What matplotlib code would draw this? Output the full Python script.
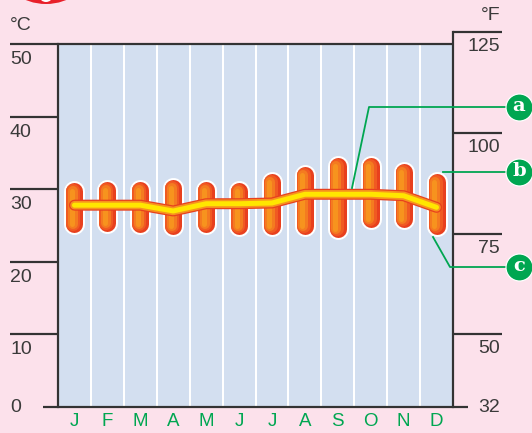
import matplotlib
matplotlib.use('Agg')
import matplotlib.pyplot as plt
import numpy as np
from matplotlib.patches import Circle

# climate data (deg C)
months = ['J', 'F', 'M', 'A', 'M', 'J', 'J', 'A', 'S', 'O', 'N', 'D']
temp_max = [30.9, 31.0, 31.0, 31.3, 31.0, 30.9, 32.1, 33.1, 34.4, 34.3, 33.5, 32.2]
temp_min = [24.1, 24.2, 24.1, 23.8, 24.1, 23.8, 23.7, 23.7, 23.4, 24.7, 24.7, 23.7]
temp_mean = [27.8, 27.8, 27.8, 27.0, 28.0, 28.0, 28.1, 29.3, 29.3, 29.3, 29.1, 27.5]
c_ticks = [0, 10, 20, 30, 40, 50]
f_ticks = [125, 100, 75, 50, 32]

W, H = 532, 433
L, R, T, B = 58, 453, 44, 407   # plot area in pixels
PINK = '#fce1eb'
BLUE = '#d3dff0'
GREEN = '#00a651'
TXT = '#3a3a3a'

fig = plt.figure(figsize=(W / 100, H / 100), dpi=100, facecolor=PINK)
ax = fig.add_axes([L / W, (H - B) / H, (R - L) / W, (B - T) / H])
ax.set_xlim(0, 12)
ax.set_ylim(0, 50)
ax.set_facecolor(BLUE)
for s in ax.spines.values():
    s.set_visible(False)
ax.set_xticks([])
ax.set_yticks([])

pt = 72 / 100  # points per pixel
xs = (R - L) / 12      # pixels per month
ys = (B - T) / 50      # pixels per degree


def dx(px):
    return (px - L) / xs


def dy(py):
    return (B - py) / ys


def hline(x0, x1, y, **kw):
    ax.plot([dx(x0), dx(x1)], [y, y], clip_on=False, solid_capstyle='butt', **kw)


frame = dict(color='#333333', lw=2.2 * pt)
font = dict(fontsize=14, color=TXT, family='Liberation Sans')

# column separators
for i in range(1, 12):
    ax.axvline(i, color='white', lw=2 * pt, zorder=1)

# left axis (deg C)
for v in c_ticks:
    if v == 0:
        hline(43, 468, v, **frame)
        ax.text(dx(10), v, '0', ha='left', va='center', **font)
    else:
        hline(10, L, v, **frame)
        ax.text(dx(10), v - 7 / ys, str(v), ha='left', va='top', **font)
hline(L, R, 50, **frame)
ax.plot([0, 0], [0, 50], clip_on=False, **frame)

# right axis (deg F)
for f in f_ticks:
    c = (f - 32) * 5 / 9
    if f == 32:
        ax.text(dx(500), c, str(f), ha='right', va='center', **font)
    else:
        hline(R, 502, c, **frame)
        ax.text(dx(500), c - 6 / ys, str(f), ha='right', va='top', **font)
ax.plot([12, 12], [0, (125 - 32) * 5 / 9], clip_on=False, **frame)

ax.text(dx(10), dy(25), '°C', ha='left', va='center', **font)
ax.text(dx(500), dy(15), '°F', ha='right', va='center', **font)

# month labels
for i, m in enumerate(months):
    ax.text(i + 0.5, dy(421), m, ha='center', va='center', fontsize=13.5,
            color=GREEN, family='Liberation Sans')

# capsule bars (max / min), faked gradient with nested capsules
bw = 17  # bar width in px
cap = (bw / 2) / ys
xc = np.arange(12) + 0.5
layers = [(0, bw + 4, 'white'), (0, bw, '#e8401e'), (-1, 14, '#f05a22'),
          (-1.5, 10, '#f47b20'), (-2.5, 5, '#f7931e')]
for x, lo, hi in zip(xc, temp_min, temp_max):
    y0, y1 = lo + cap, hi - cap
    for k, (off, w, col) in enumerate(layers):
        ax.plot([x + off / xs] * 2, [y0, y1], color=col, lw=w * pt,
                solid_capstyle='round', zorder=3 + k)

# mean line
for k, (w, col) in enumerate([(11, '#e8401e'), (8.5, '#f7931e'), (5, '#ffe600')]):
    ax.plot(xc, temp_mean, color=col, lw=w * pt, solid_capstyle='round',
            solid_joinstyle='round', zorder=10 + k)

# annotation callouts
gl = dict(color=GREEN, lw=1.8 * pt, clip_on=False, zorder=20)
ax.plot([dx(352), dx(369), dx(519)], [dy(188), dy(107), dy(107)], **gl)
ax.plot([dx(443), dx(519)], [dy(172), dy(172)], **gl)
ax.plot([dx(433), dx(450), dx(519)], [dy(237), dy(267), dy(267)], **gl)
for lab, py in [('a', 107), ('b', 172), ('c', 267)]:
    ax.plot(dx(519), dy(py), 'o', ms=27 * pt, color=GREEN, mec='white',
            mew=1.2 * pt, clip_on=False, zorder=21)
    ax.text(dx(519), dy(py) + 1 / ys, lab, ha='center', va='center', fontsize=14,
            fontweight='bold', color='white', family='DejaVu Serif', zorder=22)

# clipped red badge at the top
fig.patches.append(Circle((46 / W, 1 + 32 / H), 36 / H, transform=fig.transFigure,
                          facecolor='#e8202a', edgecolor='none'))
fig.patches.append(Circle((46 / W, 1 + 3 / H), 5 / H, transform=fig.transFigure,
                          facecolor='white', edgecolor='none'))

fig.savefig('out.png', dpi=100, facecolor=PINK)
